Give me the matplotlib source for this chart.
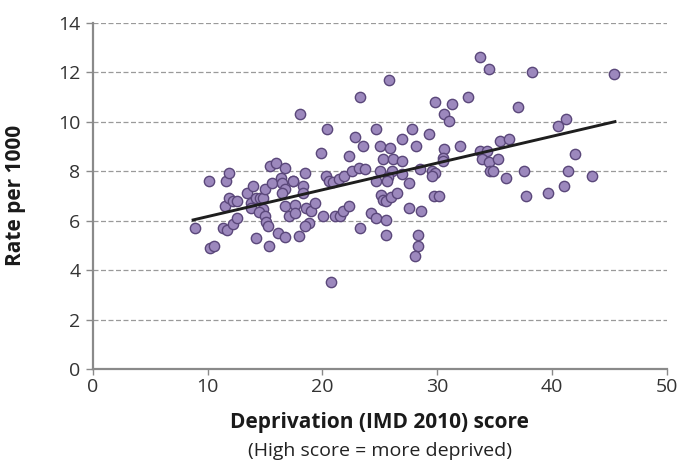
import matplotlib
matplotlib.use('Agg')
import matplotlib.pyplot as plt

plt.rcParams['font.family'] = ['Open Sans', 'DejaVu Sans']

# === Data ===================================================================
# Deprivation (IMD 2010) score
imd = [8.86, 10.1, 10.2, 10.6, 11.56, 11.9, 11.35, 11.73, 12.2, 12.54,
       11.5, 11.87, 12.17, 12.6, 13.47, 13.96, 13.75, 13.75, 14.2, 14.55,
       14.85, 14.98, 15.57, 15.42, 15.94, 16.7, 16.43, 16.52, 16.75, 17.45,
       16.5, 16.7, 17.57, 17.1, 17.6, 14.8, 14.5, 15.0, 15.1, 15.3,
       14.2, 15.35, 16.15, 16.72, 17.95, 18.85, 18.5, 18.03, 18.5, 18.3,
       18.27, 18.6, 18.96, 19.35, 19.85, 20.06, 21.08, 21.5, 21.8, 22.3,
       20.3, 20.6, 20.95, 21.45, 21.87, 22.53, 23.2, 23.7, 20.41, 22.82,
       22.3, 23.23, 23.5, 25.8, 20.76, 23.3, 24.65, 25.0, 25.87, 26.9,
       27.8, 28.15, 25.29, 26.16, 26.9, 25.0, 26.03, 26.9, 25.72, 25.6,
       24.68, 27.5, 25.12, 25.3, 25.55, 25.95, 26.45, 27.53, 24.25, 24.68,
       25.5, 25.5, 28.3, 28.28, 28.05, 33.7, 34.47, 38.25, 29.79, 31.3,
       32.64, 37.0, 30.6, 31.04, 29.27, 30.55, 31.97, 33.68, 34.3, 33.92,
       34.47, 35.3, 35.5, 36.2, 30.47, 30.5, 28.5, 29.53, 29.83, 29.5,
       34.57, 34.84, 37.57, 35.95, 29.75, 30.15, 37.69, 39.68, 28.62, 45.4,
       41.2, 40.48, 42.0, 41.35, 43.5, 41.05, 17.45]
# Rate per 1000
rate = [5.7, 7.6, 4.91, 4.99, 7.6, 7.92, 5.72, 5.63, 5.85, 6.12,
        6.6, 6.9, 6.8, 6.8, 7.1, 7.42, 6.7, 6.5, 6.9, 6.9,
        6.9, 7.28, 7.51, 8.21, 8.32, 8.12, 7.74, 7.51, 7.28, 7.6,
        7.1, 6.61, 6.65, 6.2, 6.33, 6.47, 6.35, 6.2, 5.96, 5.8,
        5.3, 4.99, 5.52, 5.33, 5.4, 5.92, 5.8, 10.31, 7.92, 7.4,
        7.11, 6.5, 6.41, 6.72, 8.72, 6.2, 6.2, 6.2, 6.4, 6.61,
        7.8, 7.6, 7.55, 7.68, 7.8, 8.0, 8.12, 8.1, 9.69, 9.39,
        8.61, 11.01, 9.0, 11.68, 3.51, 5.72, 9.7, 9.02, 8.92, 9.28,
        9.7, 9.0, 8.5, 8.5, 8.4, 8.0, 8.02, 7.89, 7.78, 7.6,
        7.6, 7.51, 7.04, 6.84, 6.8, 6.95, 7.12, 6.52, 6.32, 6.12,
        6.02, 5.41, 5.42, 4.99, 4.59, 12.63, 12.12, 12.02, 10.81, 10.71,
        11.01, 10.61, 10.32, 10.03, 9.5, 8.91, 9.0, 8.8, 8.8, 8.51,
        8.39, 8.5, 9.22, 9.31, 8.52, 8.4, 8.1, 8.0, 7.92, 7.81,
        8.0, 8.0, 8.01, 7.73, 7.0, 7.0, 7.01, 7.1, 6.41, 11.91,
        10.11, 9.81, 8.71, 8.01, 7.8, 7.4, 7.6]

# Trend line end points
trend_x = [8.74, 45.47]
trend_y = [6.03, 10.0]

xticks = [0, 10, 20, 30, 40, 50]
yticks = [0, 2, 4, 6, 8, 10, 12, 14]

# === Plot ===================================================================
fig = plt.figure(figsize=(6.82, 4.61), dpi=100)
ax = fig.add_axes([0.136, 0.199, 0.842, 0.752])

ax.scatter(imd, rate, s=55, c='#9c88bd', edgecolors='#5a477a',
           linewidths=1.0, zorder=3)
ax.plot(trend_x, trend_y, c='#1e1e1e', lw=2.1, zorder=4)

ax.set_xlim(0, 50)
ax.set_ylim(0, 14)
ax.set_xticks(xticks)
ax.set_yticks(yticks)

# Gridlines: horizontal only, dashed grey
for yv in yticks[1:]:
    ax.axhline(yv, color='#9a9a9a', lw=0.9, ls=(0, (4, 2)), zorder=1)

for side in ['top', 'right']:
    ax.spines[side].set_visible(False)
for side in ['left', 'bottom']:
    ax.spines[side].set_color('#8a8a8a')
    ax.spines[side].set_linewidth(1.6)

ax.tick_params(axis='y', direction='out', length=5, width=1.0,
               color='#8a8a8a', labelsize=14, labelcolor='#333333', pad=4)
ax.tick_params(axis='x', direction='out', length=4, width=1.0,
               color='#8a8a8a', labelsize=14, labelcolor='#333333', pad=2)

# Axis titles
fig.text(0.023, 0.575, 'Rate per 1000', rotation=90, ha='center',
         va='center', fontsize=15, fontweight='bold', color='#1a1a1a')
fig.text(0.557, 0.071, 'Deprivation (IMD 2010) score', ha='center',
         va='baseline', fontsize=15, fontweight='bold', color='#1a1a1a')
fig.text(0.557, 0.010, '(High score = more deprived)', ha='center',
         va='baseline', fontsize=14, color='#222222')

plt.savefig('out.png', dpi=100)
